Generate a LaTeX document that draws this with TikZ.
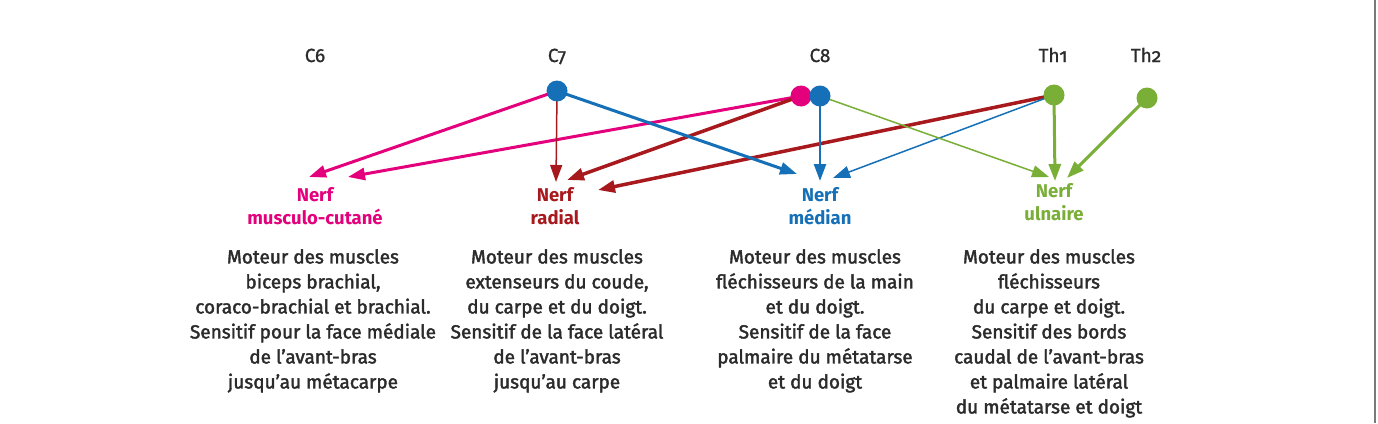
\documentclass[tikz,border=0pt]{standalone}
\usepackage{fontspec}
\setmainfont{Fira Sans}[Numbers=OldStyle]
\newfontfamily\descfont{Fira Sans}[FakeBold=2, Numbers=OldStyle]
\newfontfamily\hdrfont{Fira Sans}[FakeBold=1, Numbers=OldStyle]
\usetikzlibrary{arrows.meta}
\definecolor{mag}{HTML}{E4007C}
\definecolor{rad}{HTML}{A8191E}
\definecolor{med}{HTML}{1570B8}
\definecolor{uln}{HTML}{79AE37}
\definecolor{txt}{HTML}{2B2B2B}
\tikzset{
  hdr/.style={font=\hdrfont\fontsize{19}{22}\selectfont, text=txt, anchor=base, inner sep=0pt},
  dot/.style={circle, inner sep=0pt, minimum size=21pt, fill=#1},
  nerf/.style={font=\fontsize{18.5}{23}\selectfont\bfseries, text=#1, align=center, anchor=north, inner sep=0pt},
  desc/.style={font=\descfont\fontsize{19}{25}\selectfont, text=txt, align=center, anchor=north, inner sep=0pt},
  arr/.style={-{Triangle[length=17pt,width=12pt]}, line width=#1},
}
\begin{document}
\begin{tikzpicture}[x=1pt,y=-1pt]
\useasboundingbox (0,0) rectangle (1378,423);
\fill[white] (0,0) rectangle (1378,423);
\draw[line width=2pt, color={rgb,255:red,122;green,122;blue,122}] (1375,0) -- (1375,423);

% headers
\node[hdr] (h6) at (315,62) {C6};
\node[hdr] (h7) at (557,62) {C7};
\node[hdr] (h8) at (820,62) {C8};
\node[hdr] (ht1) at (1053,62) {Th1};
\node[hdr] (ht2) at (1146,62) {Th2};

% tip coordinates
\coordinate (mc1) at (309,177);
\coordinate (mc2) at (348,177);
\coordinate (ra1) at (556,182);
\coordinate (ra2) at (567,180);
\coordinate (ra3) at (598,190);
\coordinate (me1) at (797,174);
\coordinate (me2) at (820,181);
\coordinate (me3) at (833,178);
\coordinate (ul1) at (1049,177);
\coordinate (ul2) at (1055,181);
\coordinate (ul3) at (1067,178);

% dots (positions)
\coordinate (c7p) at (557,91);
\coordinate (c8mp) at (801,96);
\coordinate (c8bp) at (820,96);
\coordinate (th1p) at (1054,95);
\coordinate (th2p) at (1147,98);

% arrows
\draw[arr=3pt, mag] (c7p) -- (mc1);
\draw[arr=3pt, mag] (c8mp) -- (mc2);
\draw[arr=1.5pt, rad] (c7p) -- (ra1);
\draw[arr=3.5pt, rad] (c8mp) -- (ra2);
\draw[arr=3.5pt, rad] (th1p) -- (ra3);
\draw[arr=3pt, med] (c7p) -- (me1);
\draw[arr=2.5pt, med] (c8bp) -- (me2);
\draw[arr=1.5pt, med] (th1p) -- (me3);
\draw[arr=1.5pt, uln] (c8bp) -- (ul1);
\draw[arr=3pt, uln] (th1p) -- (ul2);
\draw[arr=3pt, uln] (th2p) -- (ul3);

% dots
\node[dot=med] (c7) at (c7p) {};
\node[dot=mag] (c8m) at (c8mp) {};
\node[dot=med] (c8b) at (c8bp) {};
\node[dot=uln] (th1) at (th1p) {};
\node[dot=uln] (th2) at (th2p) {};

% nerve labels
\node[nerf=mag] (nmc) at (315,187) {Nerf\\musculo-cutané};
\node[nerf=rad] (nra) at (555,187) {Nerf\\radial};
\node[nerf=med] (nme) at (820,187) {Nerf\\médian};
\node[nerf=uln] (nul) at (1054,183) {Nerf\\ulnaire};

% descriptions
\node[desc] (d1) at (313,249) {Moteur des muscles\\biceps brachial,\\coraco-brachial et brachial.\\Sensitif pour la face médiale\\de l’avant-bras\\jusqu’au métacarpe};
\node[desc] (d2) at (557,249) {Moteur des muscles\\extenseurs du coude,\\du carpe et du doigt.\\Sensitif de la face latéral\\de l’avant-bras\\jusqu’au carpe};
\node[desc] (d3) at (815,249) {Moteur des muscles\\fléchisseurs de la main\\et du doigt.\\Sensitif de la face\\palmaire du métatarse\\et du doigt};
\node[desc] (d4) at (1049,249) {Moteur des muscles\\fléchisseurs\\du carpe et doigt.\\Sensitif des bords\\caudal de l’avant-bras\\et palmaire latéral\\du métatarse et doigt};
\end{tikzpicture}
\end{document}
